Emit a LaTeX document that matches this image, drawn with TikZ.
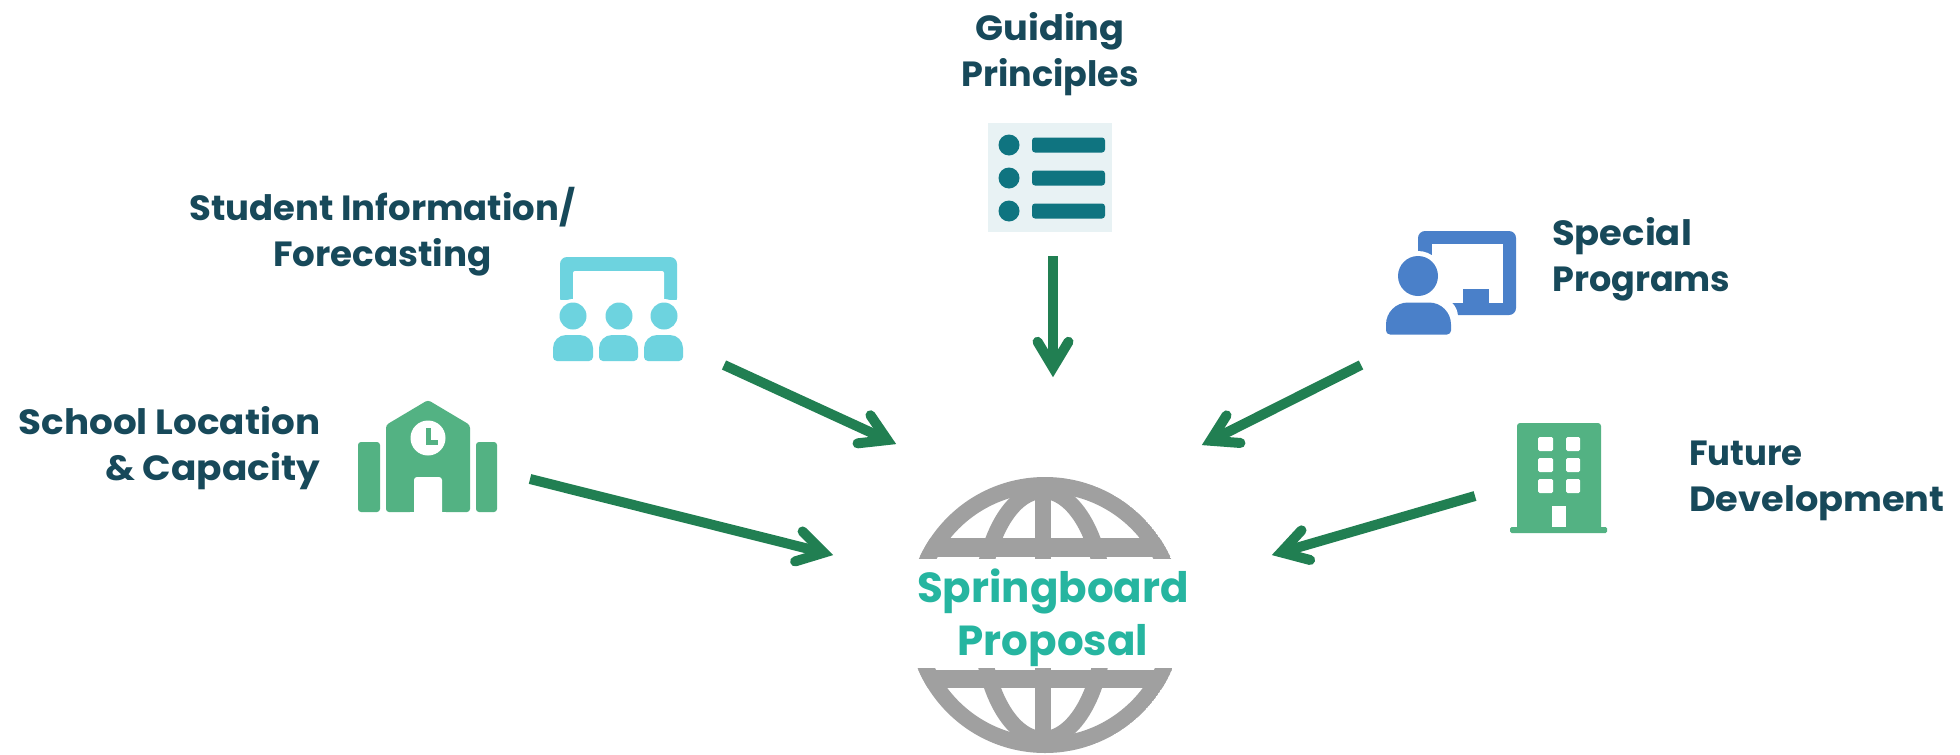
\documentclass[tikz,border=0pt]{standalone}
\usepackage{fontspec}
\usepackage{graphicx}
\setmainfont{Poppins}
\usetikzlibrary{calc}
\definecolor{labelc}{HTML}{17495A}
\definecolor{propc}{HTML}{26B5A0}
\definecolor{arrowc}{HTML}{217F52}
\definecolor{greyc}{HTML}{A0A0A0}
\definecolor{greenc}{HTML}{53B283}
\definecolor{cyanc}{HTML}{6DD3DF}
\definecolor{bluec}{HTML}{4A80C9}
\definecolor{tealc}{HTML}{0F7480}
\definecolor{palec}{HTML}{E8F2F4}
\tikzset{
  lbl/.style={text=labelc,font=\fontsize{35}{46}\selectfont\bfseries,inner sep=0pt},
  prop/.style={text=propc,font=\fontsize{42}{53}\selectfont\bfseries,inner sep=0pt,align=center},
  flow/.style={draw=arrowc,line width=10pt},
  flowhead/.style={draw=arrowc,line width=10pt,line cap=round,line join=miter,miter limit=10}
}
\newcommand{\sx}[2]{\scalebox{#1}[1]{#2}}
\newcommand{\bodyshape}[5]{% x0 y0 x1 y1 radius
  \fill (#1+20,#4) [rounded corners=4pt] -- (#1,#4) [rounded corners=#5] -- (#1,#2) -- (#3,#2) [rounded corners=4pt] -- (#3,#4) -- cycle;}
\newcommand{\flowarrow}[2]{% from, tip
  \coordinate (v) at ($(#2)!9.5pt!(#1)$);
  \draw[flow] (#1) -- (v);
  \draw[flowhead] ($(v)!30pt!31:(#1)$) -- (v) -- ($(v)!30pt!-31:(#1)$);}
\begin{document}
\begin{tikzpicture}[x=1pt,y=-1pt]
\useasboundingbox[fill=white] (0,0) rectangle (1960,755);
% list icon
\fill[palec] (988,123) rectangle (1112,232);
\foreach \y in {145,178,211}{
  \fill[tealc] (1009,\y) circle[radius=10.5pt];
  \fill[tealc,rounded corners=3pt] (1032,\y-7.5) rectangle (1105,\y+7.5);
}
% students icon
\fill[cyanc,rounded corners=7pt] (560,257) rectangle (677,305);
\fill[white,rounded corners=2pt] (573,271) rectangle (664,310);
\fill[white] (560,300) rectangle (677,310);
\foreach \x in {573,664}{\fill[white] (\x,316) circle[radius=17pt];}
\begin{scope}[cyanc,fill=cyanc]
\foreach \x in {573,619,664}{\fill (\x,316) circle[radius=13.5pt];}
\bodyshape{553}{335}{593}{361}{13pt}
\bodyshape{599}{335}{638}{361}{13pt}
\bodyshape{644}{335}{683}{361}{13pt}
\end{scope}
% school icon
\fill[greenc,rounded corners=3pt] (358,442) rectangle (380,512);
\fill[greenc,rounded corners=3pt] (476,442) rectangle (497,512);
\fill[greenc,rounded corners=3pt] (386,512) -- (386,425) -- (428,400) -- (470,425) -- (470,512) -- cycle;
\fill[white] (428,438) circle[radius=17.5pt];
\draw[greenc,line width=5pt] (428,428) -- (428,442.5) -- (438,442.5);
\fill[white,rounded corners=3pt] (414,520) -- (414,477) -- (442,477) -- (442,520) -- cycle;
\fill[white] (410,512) rectangle (446,525);
% presenter icon
\fill[bluec,rounded corners=7pt] (1418,231) rectangle (1516,315);
\fill[white] (1432,244) rectangle (1503,303);
\fill[bluec] (1463,289) rectangle (1489,303);
\fill[white] (1418,276) circle[radius=25pt];
\fill[white,rounded corners=20pt] (1379,297) rectangle (1458,345);
\begin{scope}[bluec,fill=bluec]
\fill (1418,276) circle[radius=20pt];
\bodyshape{1386}{302.5}{1451}{334.5}{22pt}
\end{scope}
% building icon
\fill[greenc,rounded corners=3pt] (1517,423) rectangle (1601,530);
\fill[greenc,rounded corners=1.5pt] (1510,527) rectangle (1607,533);
\foreach \y in {437,458,479}{
  \fill[white,rounded corners=1.5pt] (1538,\y) rectangle (1553,\y+14);
  \fill[white,rounded corners=1.5pt] (1566,\y) rectangle (1580,\y+14);
}
\fill[white] (1552,506) rectangle (1566,527);
% globe
\begin{scope}
\clip (1045,615) circle[radius=138pt];
\draw[greyc,line width=16pt] (1045,615) circle[radius=130pt];
\draw[greyc,line width=16pt] (1043,480) -- (1043,750);
\draw[greyc,line width=16pt] (1043,615) ellipse[x radius=62.5pt,y radius=124pt];
\fill[greyc] (900,538) rectangle (1190,557);
\fill[greyc] (900,670) rectangle (1190,688);
\end{scope}
\fill[white] (890,559) rectangle (1200,668);
% labels
\node[lbl,align=center] (guiding) at (1050,54) {\sx{1.05}{Guiding}\\Principles};
\node[lbl,align=center] (student) at (382.5,232) {\sx{1.013}{Student Information/}\\\sx{1.02}{Forecasting}};
\node[lbl,align=right,anchor=east] (school) at (320.5,448) {\sx{1.066}{School Location}\\\sx{1.07}{\& Capacity}};
\node[lbl,align=left,anchor=west] (special) at (1552,259) {\sx{1.055}{Special}\\Programs};
\node[lbl,align=left,anchor=west] (future) at (1689,481) {\sx{0.97}{Future}\\\sx{1.05}{Development}};
\node[prop] (globe) at (1053,618) {Springboard\\Proposal};
% connector ends
\coordinate (g1) at (1053,256); \coordinate (g2) at (1053,377);
\coordinate (s1) at (724,365);  \coordinate (s2) at (896,444);
\coordinate (l1) at (530,479);  \coordinate (l2) at (833,555);
\coordinate (p1) at (1361,365); \coordinate (p2) at (1202,445);
\coordinate (f1) at (1475,496); \coordinate (f2) at (1272,555);
\flowarrow{g1}{g2}
\flowarrow{s1}{s2}
\flowarrow{l1}{l2}
\flowarrow{p1}{p2}
\flowarrow{f1}{f2}
\end{tikzpicture}
\end{document}
